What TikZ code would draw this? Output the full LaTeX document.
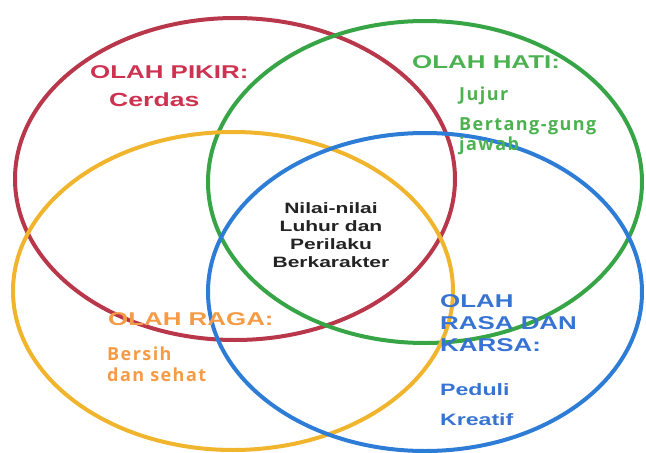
\documentclass[tikz,border=0pt]{standalone}
\usepackage{fontspec}
\usepackage{xcolor}
\usetikzlibrary{positioning}
\setmainfont{Liberation Sans}
\newfontfamily\widesans[FakeStretch=1.4]{Liberation Sans}
\newfontfamily\itemsans[LetterSpace=8]{Open Sans}
\definecolor{pikirring}{RGB}{185, 55, 75}
\definecolor{pikirtext}{RGB}{205, 50, 80}
\definecolor{hatiring}{RGB}{55, 165, 70}
\definecolor{hatitext}{RGB}{75, 178, 80}
\definecolor{ragaring}{RGB}{240, 180, 45}
\definecolor{ragatext}{RGB}{245, 155, 70}
\definecolor{rasaring}{RGB}{45, 125, 215}
\definecolor{rasatext}{RGB}{55, 115, 210}
\definecolor{coretext}{RGB}{35, 35, 35}

\begin{document}
\begin{tikzpicture}[
    x=1pt, y=-1pt,
    ring/.style={line width=4pt},
    headlabel/.style={
        inner sep=0pt, anchor=base west, align=left,
        font=\widesans\bfseries\fontsize{18.5}{22}\selectfont
    },
    itemlabel/.style={
        inner sep=0pt, anchor=base west, align=left,
        font=\itemsans\bfseries\fontsize{18}{20}\selectfont
    },
    corelabel/.style={
        inner sep=0pt, anchor=base, align=center, text=coretext,
        font=\widesans\bfseries\fontsize{15}{18}\selectfont
    }
]
    \useasboundingbox (0,0) rectangle (646,453);

    % the four rings
    \draw [ring, pikirring] (235,179) ellipse [x radius=220, y radius=161];
    \draw [ring, hatiring]  (425,182) ellipse [x radius=217, y radius=161];
    \draw [ring, ragaring]  (233,291) ellipse [x radius=220, y radius=159];
    \draw [ring, rasaring]  (425,292) ellipse [x radius=217, y radius=159];

    % olah pikir
    \node [headlabel, text=pikirtext] (pikir) at (90,78) {OLAH PIKIR:};
    \node [headlabel, text=pikirtext, font=\widesans\bfseries\fontsize{19}{22}\selectfont]
        (cerdas) at (109,106) {Cerdas};

    % olah hati (multi-line nodes sit on their last line)
    \node [headlabel, text=hatitext] (hati) at (412,68) {OLAH HATI:};
    \node [itemlabel, text=hatitext] (jujur) at (459,100) {Jujur};
    \node [itemlabel, text=hatitext] (tanggung) at (459,150) {Bertang-gung\\jawab};

    % olah raga
    \node [headlabel, text=ragatext] (raga) at (108,325) {OLAH RAGA:};
    \node [itemlabel, text=ragatext, font=\itemsans\bfseries\fontsize{18}{21}\selectfont]
        (sehat) at (107,381) {Bersih\\dan sehat};

    % olah rasa dan karsa
    \node [headlabel, text=rasatext] (rasa) at (440,351) {OLAH\\RASA DAN\\KARSA:};
    \node [headlabel, text=rasatext, font=\widesans\bfseries\fontsize{16.5}{20}\selectfont]
        (peduli) at (440,395) {Peduli};
    \node [headlabel, text=rasatext, font=\widesans\bfseries\fontsize{16.5}{20}\selectfont]
        (kreatif) at (440,425) {Kreatif};

    % centre
    \node [corelabel] (luhur) at (331,267) {Nilai-nilai\\Luhur dan\\Perilaku\\Berkarakter};
\end{tikzpicture}
\end{document}
